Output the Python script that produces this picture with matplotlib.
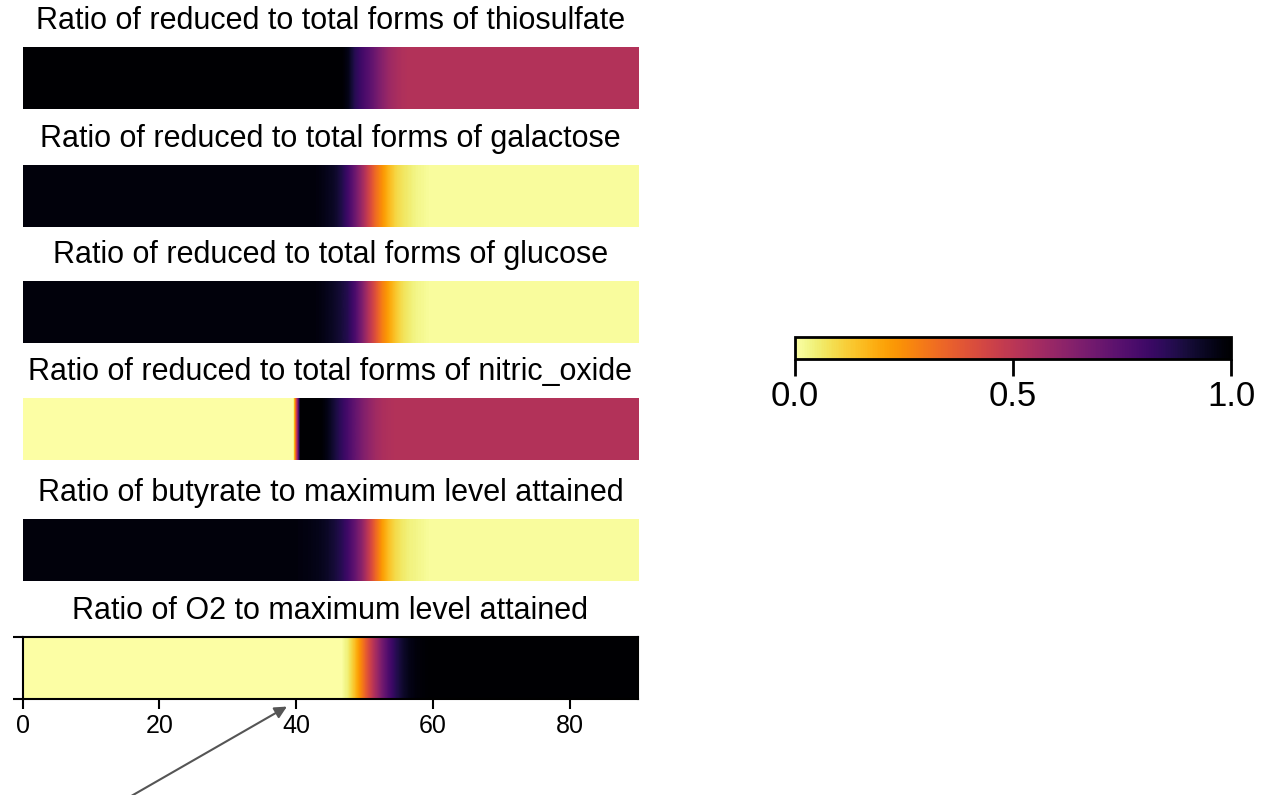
import matplotlib
matplotlib.use('Agg')
import matplotlib.pyplot as plt
import numpy as np
from matplotlib.cm import ScalarMappable
from matplotlib.colors import Normalize

plt.rcParams['font.family'] = ['Liberation Sans', 'DejaVu Sans']

# titles of the six strips, top to bottom
titles = [
    "Ratio of reduced to total forms of thiosulfate",
    "Ratio of reduced to total forms of galactose",
    "Ratio of reduced to total forms of glucose",
    "Ratio of reduced to total forms of nitric_oxide",
    "Ratio of butyrate to maximum level attained",
    "Ratio of O2 to maximum level attained",
]

# one value per time step (90 steps)
thiosulfate = [1.0] * 47 + [0.96, 0.86, 0.80, 0.75, 0.69, 0.63, 0.58, 0.55, 0.53] + [0.52] * 34
galactose = ([0.98] * 43
             + [0.97, 0.95, 0.93, 0.88, 0.80, 0.70, 0.58, 0.45, 0.33, 0.24, 0.16,
                0.10, 0.07, 0.05, 0.03, 0.02]
             + [0.01] * 31)
glucose = ([0.98] * 43
           + [0.97, 0.95, 0.93, 0.90, 0.86, 0.78, 0.66, 0.52, 0.40, 0.28, 0.20,
              0.13, 0.08, 0.05, 0.03, 0.02]
           + [0.01] * 31)
nitric_oxide = ([0.0] * 40 + [1.0] * 4
                + [0.96, 0.90, 0.84, 0.78, 0.72, 0.66, 0.61, 0.57, 0.54, 0.53]
                + [0.52] * 36)
butyrate = ([0.98] * 40
            + [0.975, 0.97, 0.96, 0.95, 0.93, 0.90, 0.86, 0.80, 0.72, 0.62, 0.48,
               0.34, 0.22, 0.14, 0.09, 0.06, 0.04, 0.03, 0.02]
            + [0.01] * 31)
o2 = ([0.0] * 47
      + [0.05, 0.15, 0.28, 0.42, 0.55, 0.68, 0.78, 0.86, 0.92, 0.96, 0.98, 0.99]
      + [1.0] * 31)

rows = [thiosulfate, galactose, glucose, nitric_oxide, butyrate, o2]
xticks = [0, 20, 40, 60, 80]
cbar_ticks = [0.0, 0.5, 1.0]

W, H = 1261, 795
fig = plt.figure(figsize=(W / 100, H / 100), dpi=100)

left_px, right_px = 22.7, 638
strip_bottoms = [109, 227, 343, 460, 581, 699]
strip_h = 62

cmap = 'inferno_r'
axes = []
for i, (title, vals) in enumerate(zip(titles, rows)):
    b = strip_bottoms[i]
    ax = fig.add_axes([left_px / W, 1 - b / H, (right_px - left_px) / W, strip_h / H])
    data = np.array(vals)[np.newaxis, :]
    ax.imshow(data, cmap=cmap, vmin=0, vmax=1, aspect='auto',
              extent=[0, len(vals), 0, 1], interpolation='bilinear')
    ax.set_title(title, fontsize=22, pad=13)
    if i < len(rows) - 1:
        ax.axis('off')
    else:
        ax.set_xticks(xticks)
        ax.set_yticks([0, 1])
        ax.set_yticklabels([])
        ax.tick_params(axis='both', length=7, width=1.5, labelsize=18, direction='out')
        for s in ax.spines.values():
            s.set_linewidth(1.5)
    axes.append(ax)

# arrow pointing at the bottom axis
axes[-1].annotate('', xy=(39, -0.1), xycoords=('data', 'axes fraction'),
                  xytext=(12.8, -1.76), textcoords=('data', 'axes fraction'),
                  arrowprops=dict(arrowstyle='-|>', color='#555555', lw=1.5,
                                  mutation_scale=18),
                  annotation_clip=False)

# horizontal colorbar on the right
cax = fig.add_axes([795 / W, 1 - 359 / H, 436 / W, 22 / H])
sm = ScalarMappable(norm=Normalize(0, 1), cmap=cmap)
cb = fig.colorbar(sm, cax=cax, orientation='horizontal', ticks=cbar_ticks)
cb.outline.set_linewidth(2)
cax.tick_params(length=12, width=2, labelsize=25, pad=3)

fig.savefig('out.png', dpi=100, facecolor='white')
